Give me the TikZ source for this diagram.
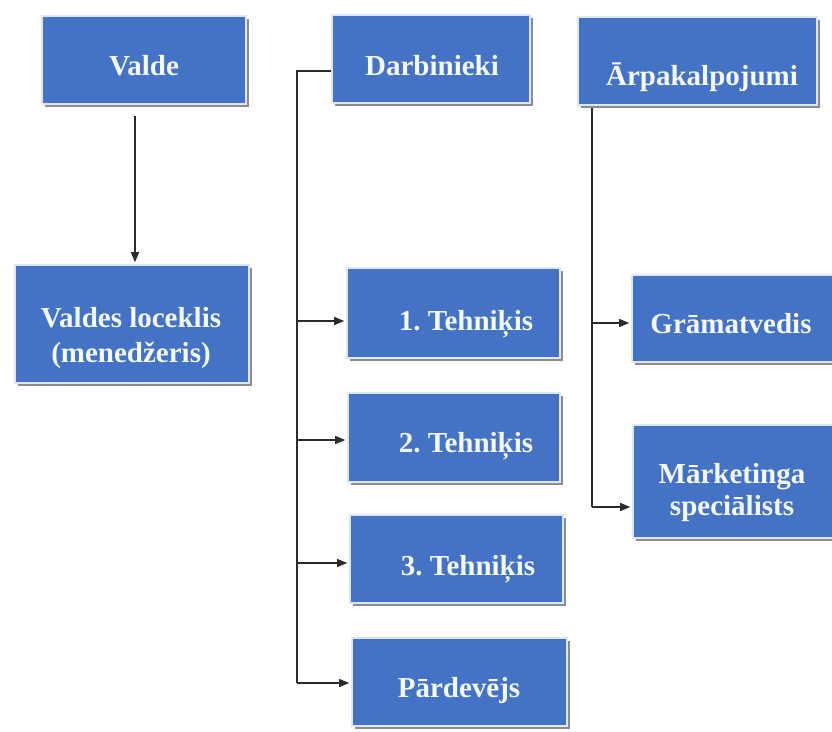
\documentclass[tikz,border=0pt]{standalone}
\usepackage{fontspec}
\setmainfont{Liberation Serif}
\usetikzlibrary{arrows.meta,shadows}
\definecolor{boxblue}{HTML}{4472C4}
\definecolor{edgeblue}{HTML}{DCE6F5}
\definecolor{linegray}{HTML}{2B2B2B}
\definecolor{txtwhite}{HTML}{F4F8FF}
\begin{document}
\begin{tikzpicture}[x=1pt,y=-1pt,
  box/.style={rectangle, fill=boxblue, draw=edgeblue, line width=1.6pt, inner sep=0pt,
    drop shadow={shadow xshift=2.5pt, shadow yshift=-3pt, fill=black!45, opacity=1}},
  txt/.style={text=txtwhite, font=\bfseries\fontsize{29}{33}\selectfont, inner sep=0pt, anchor=base, align=center},
  conn/.style={draw=linegray, line width=1.1pt},
  arr/.style={conn, -{Triangle[length=10pt,width=8pt]}, shorten >=2pt}]
\fill[white] (0,0) rectangle (832,731);
\useasboundingbox (0,0) rectangle (832,731);
\clip (0,0) rectangle (832,731);

% boxes
\node[box, minimum width=204pt, minimum height=88pt] (valde) at (144,60) {};
\node[box, minimum width=198pt, minimum height=88pt] (darb) at (431,59) {};
\node[box, minimum width=239pt, minimum height=88pt] (arp) at (697.5,61) {};
\node[box, minimum width=234pt, minimum height=118pt] (vl) at (132,324) {};
\node[box, minimum width=213pt, minimum height=90pt] (t1) at (453.5,313) {};
\node[box, minimum width=212pt, minimum height=89pt] (t2) at (454,437.5) {};
\node[box, minimum width=213pt, minimum height=88pt] (t3) at (456.5,559) {};
\node[box, minimum width=215pt, minimum height=88pt] (pard) at (459.5,682) {};
\node[box, minimum width=218pt, minimum height=87pt] (gram) at (741,318.5) {};
\node[box, minimum width=217pt, minimum height=113pt] (mark) at (741.5,481.5) {};

% texts
\node[txt] (valdeT) at (144,75) {Valde};
\node[txt] (darbT) at (432,75) {Darbinieki};
\node[txt] (arpT) at (702,85) {Ārpakalpojumi};
\node[txt] (vlT1) at (131,327) {Valdes loceklis};
\node[txt] (vlT2) at (131,362) {(menedžeris)};
\node[txt] (t1T) at (466,330) {1.\ Tehniķis};
\node[txt] (t2T) at (466,452) {2.\ Tehniķis};
\node[txt] (t3T) at (468,575) {3.\ Tehniķis};
\node[txt] (pardT) at (459,697) {Pārdevējs};
\node[txt] (gramT) at (731,333) {Grāmatvedis};
\node[txt] (markT1) at (732,483) {Mārketinga};
\node[txt] (markT2) at (732,515) {speciālists};

% Valde -> Valdes loceklis
\coordinate (va) at (135,116);
\draw[arr] (va) -- (va |- vl.north);

% Darbinieki spine
\coordinate (ds) at (297,71);
\coordinate (d1) at (297,321);
\coordinate (d2) at (297,440);
\coordinate (d3) at (297,563);
\coordinate (d4) at (297,683);
\draw[conn] (ds -| darb.west) -- (ds) -- (d4);
\draw[arr] (d1) -- (d1 -| t1.west);
\draw[arr] (d2) -- (d2 -| t2.west);
\draw[arr] (d3) -- (d3 -| t3.west);
\draw[arr] (d4) -- (d4 -| pard.west);

% Arpakalpojumi spine
\coordinate (as) at (592,108);
\coordinate (a1) at (592,323);
\coordinate (a2) at (592,507);
\draw[conn] (as) -- (a2);
\draw[arr] (a1) -- (a1 -| gram.west);
\draw[arr] (a2) -- (a2 -| mark.west);
\end{tikzpicture}
\end{document}
